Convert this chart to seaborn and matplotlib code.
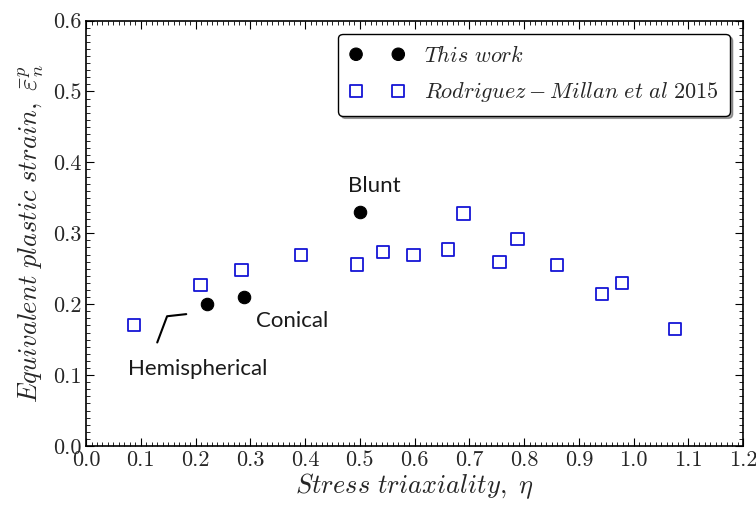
import matplotlib
matplotlib.use("Agg")
import matplotlib.pyplot as plt
from matplotlib.ticker import MultipleLocator
import numpy as np
import pandas as pd
import seaborn as sns

# Equivalent plastic strain at fracture vs. stress triaxiality
this_work_eta = [0.221, 0.289, 0.500]
this_work_strain = [0.200, 0.210, 0.330]
this_work_labels = ["Hemispherical", "Conical", "Blunt"]

rm2015_eta = [0.087, 0.209, 0.284, 0.392, 0.495, 0.542, 0.598, 0.661, 0.689,
              0.755, 0.788, 0.860, 0.942, 0.979, 1.075]
rm2015_strain = [0.171, 0.227, 0.248, 0.269, 0.256, 0.274, 0.269, 0.277, 0.328,
                 0.260, 0.292, 0.255, 0.214, 0.230, 0.165]

sns.set_style("ticks")
plt.rcParams["mathtext.fontset"] = "cm"
plt.rcParams["font.family"] = ["cmr10", "DejaVu Sans"]
plt.rcParams["axes.formatter.use_mathtext"] = True

fig = plt.figure(figsize=(7.56, 5.07), dpi=100)
ax = fig.add_axes([0.1138, 0.1203, 0.8693, 0.8391])

ours = pd.DataFrame({"eta": this_work_eta, "strain": this_work_strain})
theirs = pd.DataFrame({"eta": rm2015_eta, "strain": rm2015_strain})

sns.scatterplot(data=ours, x="eta", y="strain", ax=ax, marker="o", s=80,
                color="black", edgecolor="black", linewidth=0.8,
                label=r"$This\ work$", zorder=3)
sns.scatterplot(data=theirs, x="eta", y="strain", ax=ax, marker="s", s=78,
                facecolor="none", edgecolor="#1515d5", linewidth=1.3,
                label=r"$Rodriguez-Millan\ et\ al\ 2015$", zorder=3)

ax.set_xlim(0, 1.2)
ax.set_ylim(0, 0.6)
ax.xaxis.set_major_locator(MultipleLocator(0.1))
ax.xaxis.set_minor_locator(MultipleLocator(0.01))
ax.yaxis.set_major_locator(MultipleLocator(0.1))
ax.yaxis.set_minor_locator(MultipleLocator(0.01))
ax.xaxis.set_major_formatter(plt.FormatStrFormatter("%.1f"))
ax.yaxis.set_major_formatter(plt.FormatStrFormatter("%.1f"))
ax.tick_params(which="both", direction="in", top=True, right=True,
               labelsize=16, color="black")
ax.tick_params(which="major", length=6, width=0.8, pad=3)
ax.tick_params(which="minor", length=3, width=0.6)
for sp in ax.spines.values():
    sp.set_linewidth(1.2)
    sp.set_color("black")

ax.set_xlabel(r"$Stress\ triaxiality,\ \eta$", fontsize=19, labelpad=1)
ax.set_ylabel(r"$Equivalent\ plastic\ strain,\ \bar{\varepsilon}_n^p$",
              fontsize=19, labelpad=5)

# Annotations for the three indenter geometries
ax.plot([0.130, 0.148, 0.183], [0.146, 0.183, 0.186], color="black", lw=1.5)
ann_style = dict(fontsize=16, family="Lato", weight="normal", color="#1a1a1a")
ax.text(0.077, 0.108, this_work_labels[0], ha="left", va="center", **ann_style)
ax.text(0.311, 0.176, this_work_labels[1], ha="left", va="center", **ann_style)
ax.text(0.527, 0.366, this_work_labels[2], ha="center", va="center", **ann_style)

leg = ax.legend(loc="upper right", scatterpoints=2, scatteryoffsets=[0.5],
                fontsize=16, shadow=True, fancybox=True, frameon=True,
                borderaxespad=0.6, handlelength=2.5, handletextpad=0.85,
                labelspacing=0.65, borderpad=0.5)
leg.get_frame().set_edgecolor("black")
leg.get_frame().set_linewidth(1.0)
leg.get_frame().set_alpha(1.0)

fig.savefig("out.png", dpi=100)
